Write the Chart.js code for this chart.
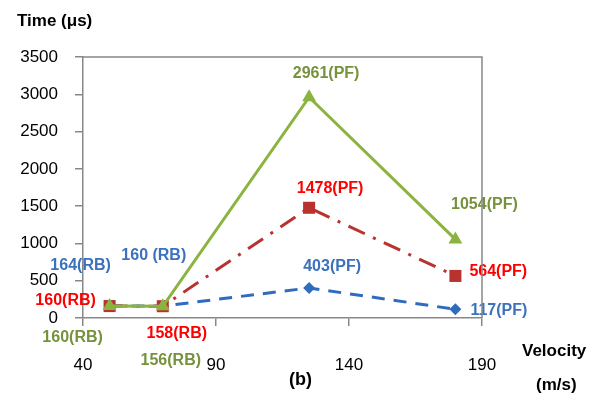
<!DOCTYPE html>
<html>
<head>
<meta charset="utf-8">
<script src="https://cdn.jsdelivr.net/npm/chart.js@4"></script>
<style>
    html, body { margin: 0; padding: 0; background: #fff; }
    canvas { display: block; }
</style>
</head>
<body>
<canvas id="chart" width="602" height="397"></canvas>
<script>
// velocity (m/s)
const velocities = [50, 70, 125, 180];

// time (µs)
const pfGreen = [160, 156, 2961, 1054];
const pfRed = [160, 158, 1478, 564];
const pfBlue = [164, 160, 403, 117];

const greenLabels = ['160(RB)', '156(RB)', '2961(PF)', '1054(PF)'];
const redLabels = ['160(RB)', '158(RB)', '1478(PF)', '564(PF)'];
const blueLabels = ['164(RB)', '160 (RB)', '403(PF)', '117(PF)'];

const xTicks = [40, 90, 140, 190];
const yTicks = [0, 500, 1000, 1500, 2000, 2500, 3000, 3500];

const FONT = '"Liberation Sans", Arial, sans-serif';
const AXIS = '#888888';

// label offsets from their point, in px
const labelPlacement = {
    0: [[-37, 32, 'center'], [8, 54, 'center'], [17, -24, 'center'], [29, -35, 'center']],
    1: [[-44, -5, 'center'], [14, 27, 'center'], [21, -19, 'center'], [14, -4, 'left']],
    2: [[-29, -40, 'center'], [-9, -50, 'center'], [23, -21, 'center'], [15, 1, 'left']]
};

const toPoints = (values) => values.map((v, i) => ({ x: velocities[i], y: v }));

const pointLabels = {
    id: 'pointLabels',
    afterDatasetsDraw(chart) {
        const ctx = chart.ctx;
        ctx.save();
        ctx.font = 'bold 16px ' + FONT;
        ctx.textBaseline = 'middle';
        chart.data.datasets.forEach((ds, di) => {
            const meta = chart.getDatasetMeta(di);
            meta.data.forEach((pt, i) => {
                const [dx, dy, align] = labelPlacement[di][i];
                ctx.fillStyle = ds.labelColor;
                ctx.textAlign = align;
                ctx.fillText(ds.texts[i], pt.x + dx, pt.y + dy);
            });
        });
        ctx.restore();
    },
    afterDraw(chart) {
        const ctx = chart.ctx;
        const a = chart.chartArea;
        ctx.save();
        ctx.strokeStyle = AXIS;
        ctx.lineWidth = 1.5;
        ctx.beginPath();
        ctx.moveTo(a.left, a.top);
        ctx.lineTo(a.right, a.top);
        ctx.lineTo(a.right, a.bottom);
        ctx.stroke();

        ctx.fillStyle = '#000';
        ctx.textBaseline = 'middle';
        ctx.font = 'bold 17px ' + FONT;
        ctx.textAlign = 'left';
        ctx.fillText('Time (μs)', 17, 21);
        ctx.fillText('Velocity', 522, 351);
        ctx.fillText('(m/s)', 536, 385);
        ctx.font = 'bold 18px ' + FONT;
        ctx.fillText('(b)', 289, 380);
        ctx.restore();
    }
};

new Chart(document.getElementById('chart'), {
    type: 'scatter',
    data: {
        datasets: [
            {
                data: toPoints(pfGreen),
                texts: greenLabels,
                labelColor: '#76923C',
                showLine: true,
                borderColor: '#8AB43F',
                backgroundColor: '#8AB43F',
                borderWidth: 3,
                pointStyle: 'triangle',
                pointRadius: 8,
                pointBorderWidth: 0
            },
            {
                data: toPoints(pfRed),
                texts: redLabels,
                labelColor: '#FF0000',
                showLine: true,
                borderColor: '#B83230',
                backgroundColor: '#B83230',
                borderWidth: 3,
                borderDash: [18, 9, 3, 9],
                pointStyle: 'rect',
                pointRadius: 8.5,
                pointBorderWidth: 0
            },
            {
                data: toPoints(pfBlue),
                texts: blueLabels,
                labelColor: '#3C72BD',
                showLine: true,
                borderColor: '#2E6CC0',
                backgroundColor: '#2E6CC0',
                borderWidth: 3,
                borderDash: [13, 9],
                pointStyle: 'rectRot',
                pointRadius: 6,
                pointBorderWidth: 0
            }
        ]
    },
    options: {
        responsive: false,
        animation: false,
        layout: { padding: { top: 57, right: 120, left: 0, bottom: 0 } },
        plugins: {
            legend: { display: false },
            tooltip: { enabled: false }
        },
        scales: {
            x: {
                type: 'linear',
                min: 40,
                max: 190,
                afterBuildTicks: (s) => { s.ticks = xTicks.map(v => ({ value: v })); },
                afterFit: (s) => { s.height = 79; },
                border: { display: true, color: AXIS, width: 1.5 },
                grid: { drawOnChartArea: false, drawTicks: true, tickLength: 8, color: AXIS, lineWidth: 1.5 },
                ticks: { color: '#000', font: { family: FONT, size: 17 }, padding: 29, maxRotation: 0,
                    callback: v => String(v) }
            },
            y: {
                type: 'linear',
                min: 0,
                max: 3500,
                afterBuildTicks: (s) => { s.ticks = yTicks.map(v => ({ value: v })); },
                afterFit: (s) => { s.width = 83; },
                border: { display: true, color: AXIS, width: 1.5 },
                grid: { drawOnChartArea: false, drawTicks: true, tickLength: 8, color: AXIS, lineWidth: 1.5 },
                ticks: { color: '#000', font: { family: FONT, size: 17 }, padding: 17,
                    callback: v => String(v) }
            }
        }
    },
    plugins: [pointLabels]
});
</script>
</body>
</html>
